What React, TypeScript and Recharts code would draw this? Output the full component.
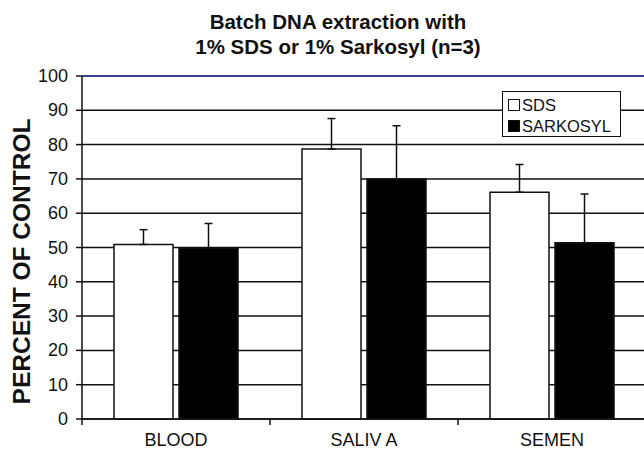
import React from "react";
import { BarChart, Bar, XAxis, YAxis, CartesianGrid, ErrorBar, ReferenceLine } from "recharts";

const categories = ["BLOOD", "SALIV A", "SEMEN"];
const sdsValues = [50.9, 78.7, 66.1];
const sdsErrors = [4.3, 8.9, 8.1];
const sarkosylValues = [49.8, 70.0, 51.4];
const sarkosylErrors = [7.2, 15.5, 14.2];
const yTicks = [0, 10, 20, 30, 40, 50, 60, 70, 80, 90, 100];
const seriesNames = ["SDS", "SARKOSYL"];
const seriesFills = ["#fff", "#000"];

const data = categories.map((c, i) => ({
  name: c,
  sds: sdsValues[i],
  sdsErr: [0, sdsErrors[i]],
  sark: sarkosylValues[i],
  sarkErr: [0, sarkosylErrors[i]],
}));

const FONT = "'Liberation Sans', Arial, sans-serif";

const XTick = (props: any) => {
  const { x, y, payload } = props;
  const half = payload && payload.offset ? payload.offset : 94;
  return (
    <g>
      <line x1={x - half} x2={x - half} y1={y - 8} y2={y - 2} stroke="#111" strokeWidth={1.5} />
      <text x={x} y={y + 19} textAnchor="middle" fontFamily={FONT} fontSize={18} fill="#111">
        {payload.value}
      </text>
    </g>
  );
};

const YTick = (props: any) => {
  const { x, y, payload } = props;
  return (
    <text x={x} y={y + 6} textAnchor="end" fontFamily={FONT} fontSize={18} fill="#111">
      {payload.value}
    </text>
  );
};

const YLabel = (props: any) => {
  const vb = props.viewBox || { y: 76, height: 343 };
  const cy = vb.y + vb.height / 2 + 14;
  const cx = 30;
  return (
    <text
      x={cx}
      y={cy}
      transform={`rotate(-90, ${cx}, ${cy})`}
      textAnchor="middle"
      fontFamily={FONT}
      fontWeight="bold"
      fontSize={24.5}
      fill="#111"
    >
      PERCENT OF CONTROL
    </text>
  );
};

const LegendBox = () => (
  <div
    style={{
      position: "absolute",
      left: 502,
      top: 91,
      width: 119,
      height: 46,
      border: "1.5px solid #111",
      background: "#fff",
      boxSizing: "border-box",
      fontFamily: FONT,
      fontSize: 16.5,
      color: "#111",
      zIndex: 2,
    }}
  >
    {seriesNames.map((n, i) => (
      <div
        key={n}
        style={{ position: "absolute", left: 5, top: 3 + i * 21, height: 20, display: "flex", alignItems: "center", whiteSpace: "nowrap" }}
      >
        <span
          style={{
            display: "inline-block",
            width: 10,
            height: 10,
            border: "1.5px solid #111",
            background: seriesFills[i],
            marginRight: 2,
          }}
        />
        {n}
      </div>
    ))}
  </div>
);

export default function App() {
  return (
    <div style={{ position: "absolute", left: 0, top: 0, width: 644, height: 449, overflow: "hidden", background: "#fff" }}>
      <div
        style={{
          position: "absolute",
          left: 0,
          width: 676,
          top: 9,
          textAlign: "center",
          fontFamily: FONT,
          fontWeight: "bold",
          fontSize: 20.5,
          lineHeight: "25px",
          color: "#111",
          zIndex: 2,
          whiteSpace: "nowrap",
        }}
      >
        Batch DNA extraction with
        <br />
        1% SDS or 1% Sarkosyl (n=3)
      </div>
      <LegendBox />
      <BarChart
        width={646}
        height={449}
        data={data}
        margin={{ top: 76, right: 0, bottom: 0, left: 0 }}
        barCategoryGap={32}
        barGap={6}
      >
        <CartesianGrid vertical={false} stroke="#111" strokeWidth={1.5} />
        <XAxis
          dataKey="name"
          height={30}
          axisLine={{ stroke: "#111", strokeWidth: 1.5 }}
          tickLine={false}
          tick={<XTick />}
          interval={0}
        />
        <YAxis
          width={82}
          domain={[0, 100]}
          ticks={yTicks}
          interval={0}
          axisLine={{ stroke: "#111", strokeWidth: 1.5 }}
          tickLine={{ stroke: "#111", strokeWidth: 1.5 }}
          tickSize={6}
          tickMargin={8}
          tick={<YTick />}
          label={<YLabel />}
        />
        <ReferenceLine y={100} stroke="#3a3aa8" strokeWidth={1.5} />
        <Bar dataKey="sds" name="SDS" fill="#fff" stroke="#111" strokeWidth={1.5} isAnimationActive={false}>
          <ErrorBar dataKey="sdsErr" width={4} stroke="#111" strokeWidth={1.5} direction="y" />
        </Bar>
        <Bar dataKey="sark" name="SARKOSYL" fill="#000" stroke="#111" strokeWidth={1.5} isAnimationActive={false}>
          <ErrorBar dataKey="sarkErr" width={4} stroke="#111" strokeWidth={1.5} direction="y" />
        </Bar>
      </BarChart>
    </div>
  );
}
